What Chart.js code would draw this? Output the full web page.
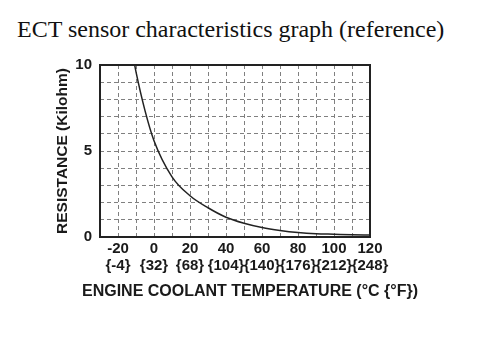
<!DOCTYPE html>
<html>
<head>
<meta charset="utf-8">
<script src="https://cdn.jsdelivr.net/npm/chart.js@4"></script>
<style>
  html, body { margin: 0; padding: 0; background: #fff; }
  #title {
    position: absolute; left: 17px; top: 17px;
    font: 24px/24px 'Liberation Serif', 'Times New Roman', serif;
    color: #111; white-space: nowrap;
  }
  #wrap { position: absolute; left: 0; top: 0; width: 496px; height: 346px; }
</style>
</head>
<body>
<div id="title">ECT sensor characteristics graph (reference)</div>
<div id="wrap"><canvas id="ectChart"></canvas></div>
<script>
// Data
const temps = [-11, -10, -5, 0, 10, 20, 30, 40, 50, 60, 70, 80, 90, 100, 110, 120];
const resistance = [10.15, 9.6, 7.35, 5.6, 3.5, 2.4, 1.7, 1.15, 0.8, 0.55, 0.38, 0.26, 0.19, 0.16, 0.13, 0.11];

// Tick labels
const celsiusTicks = [-20, 0, 20, 40, 60, 80, 100, 120];
const fahrenheitLabels = ["{-4}", "{32}", "{68}", "{104}", "{140}", "{176}", "{212}", "{248}"];
const resistanceTicks = [0, 5, 10];

const sansFont = "'Liberation Sans', Arial, sans-serif";
const xTitle = "ENGINE COOLANT TEMPERATURE (°C {°F})";

// Box around the plot area, plus the x title (drawn here so it is not squeezed to the plot width)
const frame = {
    id: "frame",
    afterDraw(chart) {
        const { ctx, chartArea: a } = chart;
        ctx.save();
        ctx.strokeStyle = "#222";
        ctx.lineWidth = 2;
        ctx.strokeRect(a.left, a.top, a.right - a.left, a.bottom - a.top);
        ctx.fillStyle = "#1a1a1a";
        ctx.font = "bold 16px " + sansFont;
        ctx.textAlign = "center";
        ctx.textBaseline = "middle";
        ctx.fillText(xTitle, (a.left + a.right) / 2 + 15, a.bottom + 55);
        ctx.restore();
    }
};

new Chart(document.getElementById("ectChart"), {
    type: "line",
    data: {
        datasets: [{
            data: temps.map((t, i) => ({ x: t, y: resistance[i] })),
            borderColor: "#222",
            borderWidth: 1.5,
            pointRadius: 0,
            cubicInterpolationMode: "monotone",
            fill: false
        }]
    },
    options: {
        responsive: true,
        maintainAspectRatio: false,
        animation: false,
        layout: { padding: { left: 17, right: 126, top: 65, bottom: 0 } },
        plugins: {
            legend: { display: false },
            tooltip: { enabled: false }
        },
        scales: {
            x: {
                type: "linear",
                min: -30,
                max: 120,
                afterFit: (s) => { s.height = 109; },
                grid: { color: "#808080", lineWidth: 1, drawTicks: false },
                border: { display: false, dash: [4, 3] },
                ticks: {
                    stepSize: 10,
                    autoSkip: false,
                    maxRotation: 0,
                    minRotation: 0,
                    padding: 3,
                    color: "#1a1a1a",
                    font: { family: sansFont, size: 15, weight: "bold", lineHeight: 1.13 },
                    callback: (v) => {
                        const i = celsiusTicks.indexOf(v);
                        return i < 0 ? "" : [String(v), fahrenheitLabels[i]];
                    }
                }
            },
            y: {
                min: 0,
                max: 10,
                afterFit: (s) => { s.width = 83; },
                grid: { color: "#808080", lineWidth: 1, drawTicks: false },
                border: { display: false, dash: [4, 3] },
                ticks: {
                    stepSize: 1,
                    autoSkip: false,
                    padding: 8,
                    color: "#1a1a1a",
                    font: { family: sansFont, size: 15, weight: "bold" },
                    callback: (v) => resistanceTicks.includes(v) ? String(v) : ""
                },
                title: {
                    display: true,
                    text: "RESISTANCE (Kilohm)",
                    color: "#1a1a1a",
                    font: { family: sansFont, size: 15.5, weight: "bold" },
                    padding: { top: 36, bottom: 0 }
                }
            }
        }
    },
    plugins: [frame]
});
</script>
</body>
</html>
